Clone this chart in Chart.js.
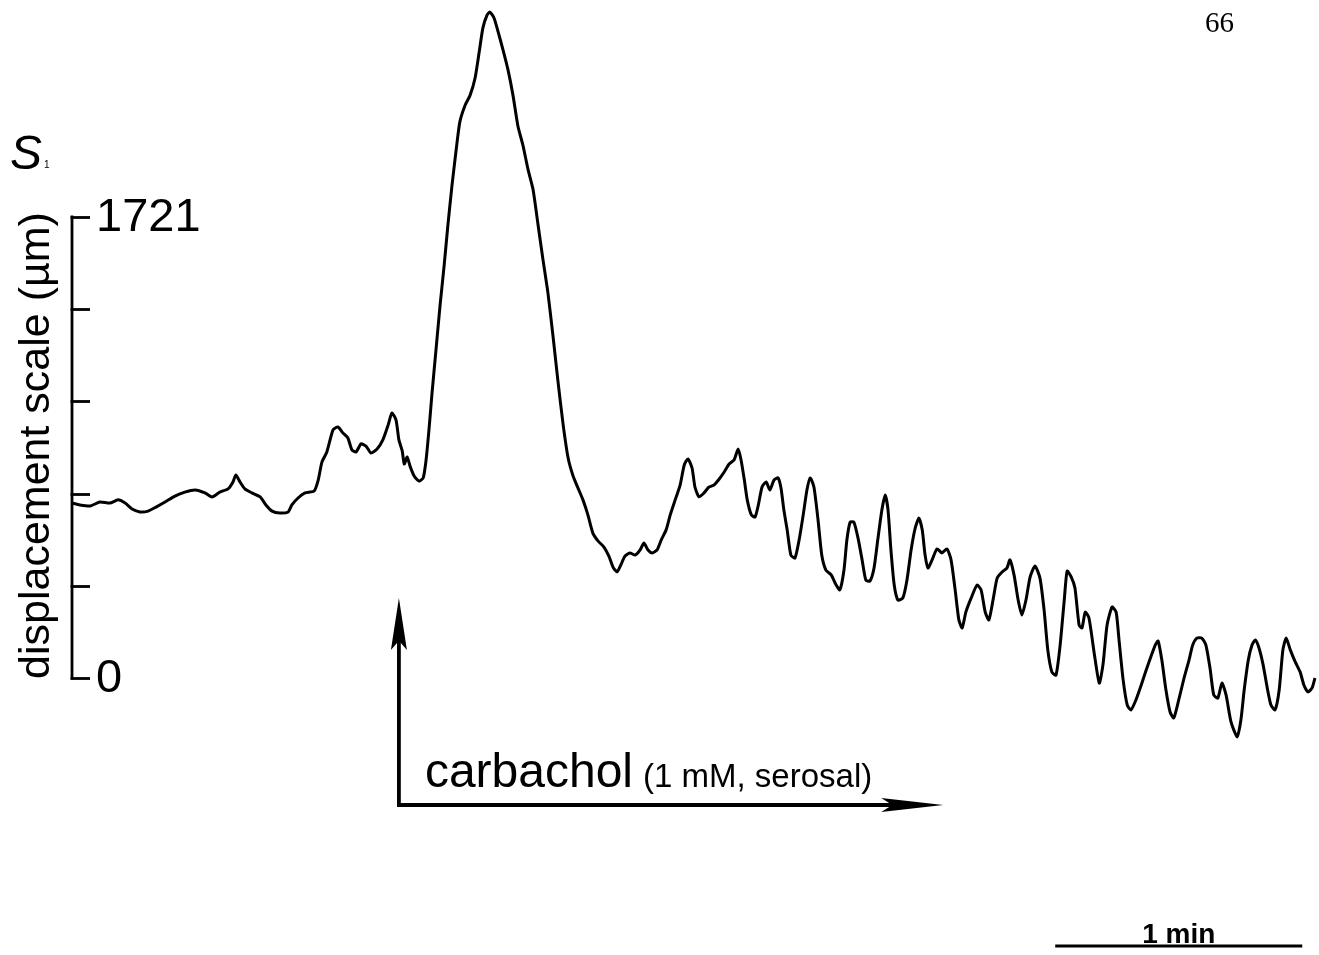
<!DOCTYPE html>
<html>
<head>
<meta charset="utf-8">
<title>S1 displacement trace – carbachol</title>
<script src="https://cdn.jsdelivr.net/npm/chart.js@4.4.1/dist/chart.umd.min.js"></script>
<style>
  html, body { margin: 0; padding: 0; background: #ffffff; }
  #wrap { width: 1319px; height: 955px; }
  canvas { display: block; }
</style>
</head>
<body>
<div id="wrap"><canvas id="trace" width="1319" height="955"></canvas></div>
<script>
// Recorded time (s) of each sample
const timeSec = [
  0,1.9,4.4,6.8,9.2,11.2,12.9,14.6,16.5,18.5,
  20.4,22.6,25.0,27.4,29.9,32.3,34.0,35.9,37.9,39.1,
  39.8,40.8,42.0,43.7,45.7,47.1,48.6,50.5,52.5,53.4,
  54.9,56.6,58.8,59.8,60.7,61.9,63.4,64.6,65.8,67.0,
  68.0,69.0,70.2,71.4,72.6,74.1,75.5,76.8,77.7,78.7,
  79.4,80.2,80.7,81.4,82.1,83.1,84.3,85.3,86.0,86.7,
  87.4,88.4,89.4,90.4,91.3,92.3,93.3,94.2,95.5,96.7,
  97.9,98.9,99.8,100.8,101.5,102.5,103.5,104.7,105.9,107.1,
  108.3,109.5,110.8,112.0,113.2,114.4,115.6,116.8,118.0,119.3,
  120.5,121.7,122.9,124.1,125.3,126.5,127.8,129.2,130.4,131.4,
  132.4,133.3,134.3,135.5,136.8,138.0,138.9,139.9,140.9,142.1,
  143.1,144.3,145.3,146.5,147.7,148.7,149.6,150.6,151.3,152.3,
  153.5,154.7,155.9,157.2,158.4,159.6,160.8,161.8,162.5,163.3,
  164.0,165.0,165.9,166.7,167.6,168.6,169.5,170.5,171.5,172.2,
  172.9,173.7,174.6,175.6,176.6,177.6,178.5,179.3,180.2,181.2,
  182.1,183.1,184.4,185.6,186.5,187.5,188.2,189.0,189.9,190.9,
  191.9,192.8,193.8,194.8,195.7,196.7,197.5,198.2,198.9,199.7,
  200.6,201.8,202.8,203.8,204.8,205.7,206.5,207.2,207.9,208.9,
  210.1,211.3,212.5,213.5,214.5,215.4,216.2,217.1,218.4,219.8,
  220.8,221.8,222.7,223.7,224.7,225.9,227.1,227.8,228.8,229.8,
  230.7,231.7,232.7,233.9,235.1,236.1,237.0,238.0,239.0,240.0,
  241.0,241.7,242.7,243.6,244.6,245.3,246.1,247.0,248.3,249.5,
  250.4,251.4,252.6,253.6,254.3,255.3,256.3,257.2,258.4,259.7,
  260.9,262.1,263.1,263.8,264.7,265.7,266.7,267.6,268.8,270.1,
  271.3,272.2,273.2,274.4,275.4,276.4,277.3,278.3,279.3,280.3,
  281.5,283.0,283.9,284.7,285.7,286.6,287.4,288.3,289.3,290.3,
  291.2,292.2,293.2,294.1,294.9,295.9,297.1,298.3,299.2,300.2,
  301.2,301.9
];

// Displacement of marker S1 (µm)
const displacementUm = [
  653,646,642,657,653,665,653,631,620,623,
  638,657,679,694,702,691,676,694,706,732,
  758,732,706,691,676,646,623,616,620,646,
  672,691,698,739,806,844,926,937,915,896,
  851,844,874,866,840,855,889,945,989,963,
  889,848,799,825,791,754,735,747,814,926,
  1056,1224,1392,1542,1691,1840,1971,2076,2139,2176,
  2240,2337,2427,2475,2486,2464,2412,2344,2270,2176,
  2061,1990,1896,1822,1691,1561,1437,1280,1112,944,
  821,754,709,665,609,541,511,489,455,414,
  396,422,455,467,459,478,504,478,467,478,
  515,553,609,665,720,795,818,784,713,676,
  691,713,720,743,769,799,814,855,814,739,
  665,609,601,646,713,732,702,739,747,709,
  627,553,459,448,515,609,702,747,713,590,
  459,403,385,347,329,403,515,582,582,523,
  441,366,362,411,515,627,683,627,478,347,
  291,299,366,478,560,597,553,459,411,441,
  482,467,482,441,329,217,187,246,299,347,
  329,246,217,291,373,396,411,441,385,291,
  235,291,377,418,373,254,105,22,11,123,
  291,399,377,336,198,187,246,224,90,-19,
  49,198,265,246,142,-7,-101,-119,-82,-26,
  30,82,123,138,67,-45,-127,-149,-82,0,
  67,123,149,149,123,37,-63,-75,-19,-63,
  -164,-220,-157,-45,67,123,142,112,49,-37,
  -101,-119,-45,105,149,105,60,22,-26,-52,
  -37,0
];

// Calibrated displacement scale: 0 to 1721 µm in five equal steps
const yTickValues = [0, 344.2, 688.4, 1032.6, 1376.8, 1721];
const yTickLabels = ['0', '', '', '', '', '1721'];
const yAxisTitle = 'displacement scale (\u00b5m)';

const traceName = 'S';
const traceIndex = '1';
const pageNumber = '66';

// Carbachol application: start time and extent of the marker arrow (s)
const stimulusLabel = 'carbachol';
const stimulusDetail = '(1 mM, serosal)';
const stimulusStart = 79.4;
const stimulusArrowEnd = 211.6;

// Time scale bar (s)
const scaleBarStart = 238.8;
const scaleBarSeconds = 60;
const scaleBarLabel = '1 min';

const points = timeSec.map((t, i) => ({ x: t, y: displacementUm[i] }));

const SANS = '"Liberation Sans", Arial, Helvetica, sans-serif';
const SERIF = '"Liberation Serif", "Times New Roman", serif';

function arrowHead(ctx, tipX, tipY, dirX, dirY, len, half) {
  const bx = tipX - dirX * len, by = tipY - dirY * len;
  const px = -dirY, py = dirX;
  ctx.beginPath();
  ctx.moveTo(tipX, tipY);
  ctx.lineTo(bx + px * half, by + py * half);
  ctx.lineTo(bx + dirX * len * 0.18, by + dirY * len * 0.18);
  ctx.lineTo(bx - px * half, by - py * half);
  ctx.closePath();
  ctx.fill();
}

// Draws the calibration axis, labels, stimulus arrow and time bar
const tracePlugin = {
  id: 'traceFurniture',
  afterDatasetsDraw(chart) {
    const ctx = chart.ctx;
    const xs = chart.scales.x, ys = chart.scales.y;
    const axisX = xs.getPixelForValue(0);
    const yTop = ys.getPixelForValue(yTickValues[yTickValues.length - 1]);
    const yBot = ys.getPixelForValue(yTickValues[0]);
    ctx.save();
    ctx.strokeStyle = '#000';
    ctx.fillStyle = '#000';
    ctx.lineCap = 'butt';

    // calibration bar
    ctx.lineWidth = 2.8;
    ctx.beginPath();
    ctx.moveTo(axisX, yTop - 1.4);
    ctx.lineTo(axisX, yBot + 1.4);
    ctx.stroke();
    yTickValues.forEach(v => {
      const y = Math.round(ys.getPixelForValue(v)) + 0.5;
      ctx.beginPath();
      ctx.moveTo(axisX - 1.4, y);
      ctx.lineTo(axisX + 18, y);
      ctx.stroke();
    });
    ctx.font = '47px ' + SANS;
    ctx.textBaseline = 'middle';
    ctx.textAlign = 'left';
    yTickValues.forEach((v, i) => {
      if (yTickLabels[i]) ctx.fillText(yTickLabels[i], axisX + 24, ys.getPixelForValue(v) + 1);
    });

    // axis title
    ctx.save();
    ctx.translate(axisX - 35, (yTop + yBot) / 2 - 2);
    ctx.rotate(-Math.PI / 2);
    ctx.textAlign = 'center';
    ctx.textBaseline = 'middle';
    ctx.font = '43px ' + SANS;
    ctx.fillText(yAxisTitle, 0, 0);
    ctx.restore();

    // trace name
    ctx.textAlign = 'left';
    ctx.textBaseline = 'alphabetic';
    ctx.font = 'italic 48px ' + SANS;
    ctx.fillText(traceName, 10, 169);
    ctx.font = '10px ' + SANS;
    ctx.fillText(traceIndex, 44, 168);

    // page number
    ctx.font = '29px ' + SERIF;
    ctx.fillText(pageNumber, 1205, 32);

    // stimulus arrow
    const sx = xs.getPixelForValue(stimulusStart);
    const ex = xs.getPixelForValue(stimulusArrowEnd);
    const baseY = yBot + 127;
    const tipY = yBot - 80;
    ctx.lineWidth = 3.8;
    ctx.beginPath();
    ctx.moveTo(sx, baseY);
    ctx.lineTo(sx, tipY + 40);
    ctx.moveTo(sx - 1.9, baseY);
    ctx.lineTo(ex - 40, baseY);
    ctx.stroke();
    arrowHead(ctx, sx, tipY, 0, -1, 52, 8);
    arrowHead(ctx, ex, baseY, 1, 0, 62, 7);

    ctx.font = '48px ' + SANS;
    ctx.fillText(stimulusLabel, sx + 26, baseY - 18);
    const w = ctx.measureText(stimulusLabel).width;
    ctx.font = '33px ' + SANS;
    ctx.fillText(stimulusDetail, sx + 26 + w + 10, baseY - 18);

    // time scale bar
    const b0 = xs.getPixelForValue(scaleBarStart);
    const b1 = xs.getPixelForValue(scaleBarStart + scaleBarSeconds);
    const barY = yBot + 268;
    ctx.lineWidth = 3;
    ctx.beginPath();
    ctx.moveTo(b0, barY);
    ctx.lineTo(b1, barY);
    ctx.stroke();
    ctx.font = 'bold 28px ' + SANS;
    ctx.textAlign = 'center';
    ctx.fillText(scaleBarLabel, (b0 + b1) / 2, barY - 3);
    ctx.restore();
  }
};

new Chart(document.getElementById('trace'), {
  type: 'line',
  data: {
    datasets: [{
      label: traceName + traceIndex,
      data: points,
      borderColor: '#000000',
      borderWidth: 3,
      pointRadius: 0,
      tension: 0.2,
      fill: false,
      clip: false
    }]
  },
  options: {
    responsive: false,
    animation: false,
    devicePixelRatio: 1,
    layout: { padding: { left: 72, right: 4, top: 217, bottom: 277 } },
    plugins: { legend: { display: false }, tooltip: { enabled: false }, title: { display: false } },
    scales: {
      x: { type: 'linear', min: 0, max: 301.9, display: false },
      y: { type: 'linear', min: 0, max: 1721, display: false }
    }
  },
  plugins: [tracePlugin]
});
</script>
</body>
</html>
